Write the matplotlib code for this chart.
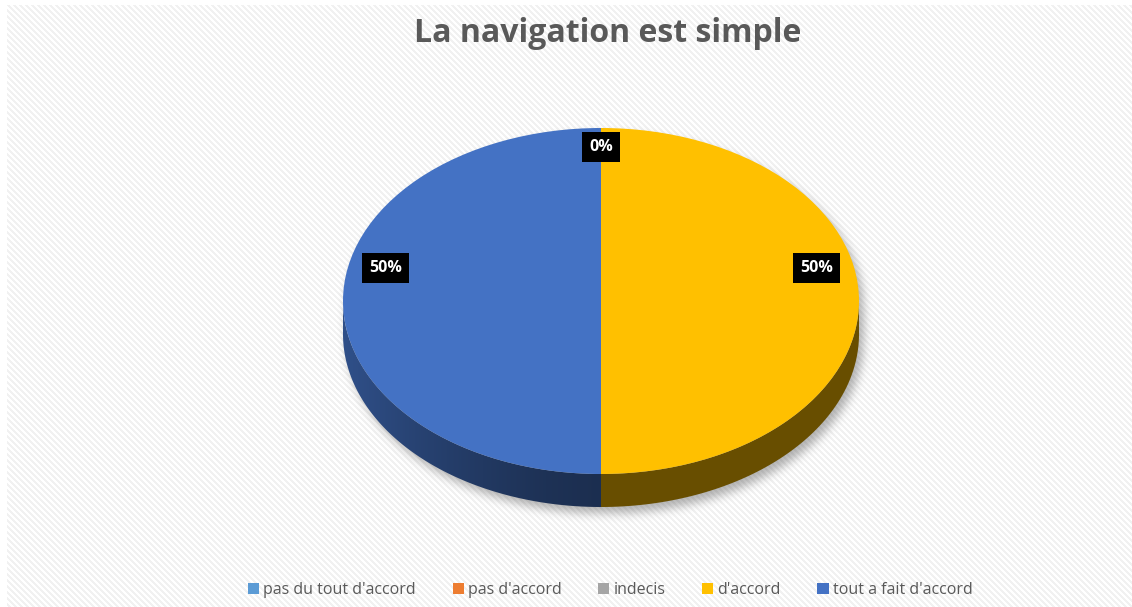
import numpy as np
import matplotlib
matplotlib.use("Agg")
import matplotlib.pyplot as plt
from matplotlib.path import Path
from matplotlib.patches import PathPatch
import matplotlib.colors as mcolors

categories = ["pas du tout d'accord", "pas d'accord", "indecis", "d'accord", "tout a fait d'accord"]
valeurs = [0, 0, 0, 50, 50]
couleurs = ["#5b9bd5", "#ed7d31", "#a5a5a5", "#ffc000", "#4472c4"]
titre = "La navigation est simple"

plt.rcParams["font.family"] = ["Open Sans", "DejaVu Sans"]

W, H = 1132, 607
fig = plt.figure(figsize=(W / 100, H / 100), dpi=100)
fig.patch.set_facecolor("white")

# fond rayé en diagonale
bg = fig.add_axes([7 / W, 0, 1 - 7 / W, (H - 5) / H])
yy, xx = np.mgrid[0:H - 5, 0:W - 7]
rayures = np.where(((xx - yy) % 6) < 3, 0.945, 1.0)
bg.imshow(rayures, cmap="gray", vmin=0, vmax=1, aspect="auto", interpolation="nearest")
bg.axis("off")

# géométrie du camembert (en pixels)
cx, cy = 601, 301
rx, ry = 258, 173
prof = 33
marge_x, marge_y = 25, 35
d = prof / ry

ax = fig.add_axes([(cx - rx - marge_x) / W,
                   (H - (cy + ry + prof + marge_y)) / H,
                   (2 * rx + 2 * marge_x) / W,
                   (2 * ry + prof + 2 * marge_y) / H])
xlim = (-1 - marge_x / rx, 1 + marge_x / rx)
ylim = (-1 - d - marge_y / ry, 1 + marge_y / ry)

wedges, _, autotexts = ax.pie(
    valeurs, colors=couleurs, startangle=90, counterclock=False, radius=1,
    autopct=lambda p: f"{p:.0f}%", pctdistance=0.8,
    wedgeprops=dict(linewidth=0, zorder=3),
    textprops=dict(color="white", fontsize=11.5, fontweight="bold"))
ax.set_aspect("auto")
ax.set_xlim(*xlim)
ax.set_ylim(*ylim)
ax.axis("off")

# ombre portée sous le disque
nx = 2 * rx + 2 * marge_x
ny = 2 * ry + prof + 2 * marge_y
v, u = np.mgrid[0:ny, 0:nx]
X = (u - marge_x - rx - 4) / rx
Y = (marge_y + ry - (v - 6)) / ry
masque = ((X ** 2 + Y ** 2 <= 1) | ((np.abs(X) <= 1) & (Y <= 0) & (Y >= -d))
          | (X ** 2 + (Y + d) ** 2 <= 1)).astype(float)


def flou(a, r):
    for axis in (0, 1):
        pad = [(0, 0), (0, 0)]
        pad[axis] = (r + 1, r)
        c = np.cumsum(np.pad(a, pad, mode="edge"), axis=axis)
        if axis == 0:
            a = (c[2 * r + 1:] - c[:-2 * r - 1]) / (2 * r + 1)
        else:
            a = (c[:, 2 * r + 1:] - c[:, :-2 * r - 1]) / (2 * r + 1)
    return a


for _ in range(3):
    masque = flou(masque, 4)
ombre = np.zeros((ny, nx, 4))
ombre[..., :3] = 0.35
ombre[..., 3] = masque * 0.45
ax.imshow(ombre, extent=(xlim[0], xlim[1], ylim[0], ylim[1]), aspect="auto",
          zorder=0, interpolation="bilinear")

# flanc du cylindre, une partie par tranche
total = sum(valeurs)
t = np.linspace(180, 360, 1441)
grille_x = np.linspace(-1, 1, 600)
facteur = 0.41 + 0.29 * np.clip(-grille_x, 0, 1) ** 1.5
debut = 90.0
for val, coul in zip(valeurs, couleurs):
    span = 360.0 * val / total
    a1 = debut - span
    debut = a1
    if val == 0:
        continue
    sel = t[((t - a1) % 360) <= span]
    if sel.size < 2:
        continue
    rad = np.deg2rad(sel)
    haut = np.column_stack([np.cos(rad), np.sin(rad)])
    bas = np.column_stack([np.cos(rad[::-1]), np.sin(rad[::-1]) - d])
    pts = np.vstack([haut, bas, haut[:1]])
    chemin = PathPatch(Path(pts, closed=True), facecolor="none", edgecolor="none")
    ax.add_patch(chemin)
    rgb = np.array(mcolors.to_rgb(coul))
    bande = np.clip(rgb[None, None, :] * facteur[None, :, None], 0, 1)
    im = ax.imshow(np.repeat(bande, 2, axis=0), extent=(-1, 1, -1 - d, 0),
                   aspect="auto", zorder=2, interpolation="bilinear")
    im.set_clip_path(chemin)

ax.set_xlim(*xlim)
ax.set_ylim(*ylim)

# étiquettes de pourcentage
debut = 90.0
for val, txt in zip(valeurs, autotexts):
    span = 360.0 * val / total
    mid = np.deg2rad(debut - span / 2)
    debut -= span
    txt.set_position((0.835 * np.cos(mid), 0.19 + 0.70 * np.sin(mid)))
    txt.set_bbox(dict(boxstyle="square,pad=0.42", facecolor="black", edgecolor="none"))
    txt.set_zorder(5)

fig.text(0.537, 1 - 33 / H, titre, ha="center", va="center", fontsize=23,
         fontweight="bold", color="#595959")

fig.legend(wedges, categories, loc="center", bbox_to_anchor=(0.539, 1 - 590 / H),
           ncol=5, frameon=False, handlelength=0.7, handleheight=0.7,
           handletextpad=0.25, columnspacing=2.3, fontsize=11.5, labelcolor="#595959")

fig.savefig("out.png", dpi=100)
